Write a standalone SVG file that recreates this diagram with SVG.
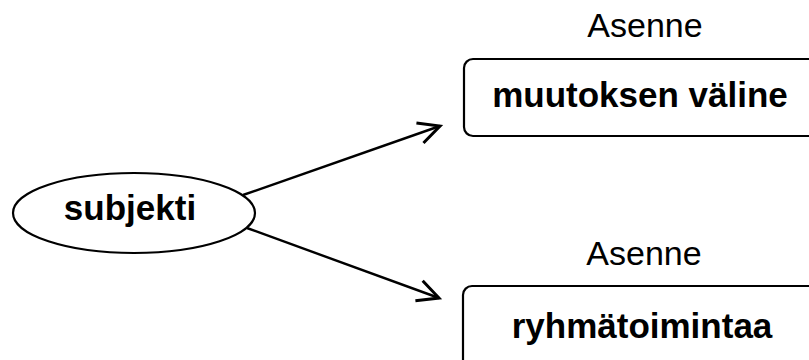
<svg xmlns="http://www.w3.org/2000/svg" width="809" height="360" viewBox="0 0 809 360">
<style>
.b{font-family:"Liberation Sans",Arial,sans-serif;font-weight:bold;font-size:35px;fill:#000;text-anchor:middle}
.r{font-family:"Liberation Sans",Arial,sans-serif;font-size:34px;fill:#000;text-anchor:middle}
.s{fill:#fff;stroke:#000;stroke-width:2.2}
.c{stroke:#000;stroke-width:2.4;fill:none}
</style>
<defs>
<marker id="ah" markerUnits="userSpaceOnUse" markerWidth="30" markerHeight="30" refX="0" refY="0" viewBox="-20 -12 24 24" orient="auto">
<path d="M -17 -8.5 L 0 0 L -17 8.5" fill="none" stroke="#000" stroke-width="2.4"/>
</marker>
</defs>
<rect width="809" height="360" fill="#fff"/>
<g id="connectors">
<line class="c" x1="243" y1="195" x2="440" y2="126" marker-end="url(#ah)"/>
<line class="c" x1="247" y1="228" x2="439" y2="298" marker-end="url(#ah)"/>
</g>
<g id="subjekti">
<ellipse class="s" cx="134" cy="213" rx="121" ry="40"/>
<text class="b" x="130" y="220">subjekti</text>
</g>
<g id="asenne1">
<text class="r" x="645" y="37">Asenne</text>
<rect class="s" x="464" y="59" width="360" height="77" rx="9"/>
<text class="b" x="640" y="107">muutoksen väline</text>
</g>
<g id="asenne2">
<text class="r" x="644" y="265">Asenne</text>
<rect class="s" x="463" y="286" width="360" height="90" rx="9"/>
<text class="b" x="642" y="338">ryhmätoimintaa</text>
</g>
</svg>
